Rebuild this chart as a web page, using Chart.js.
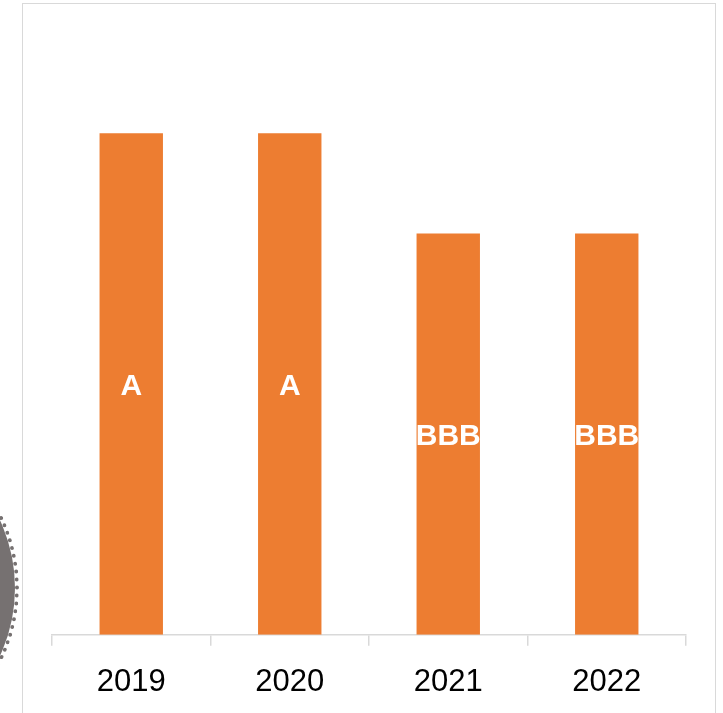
<!DOCTYPE html>
<html>
<head>
<meta charset="utf-8">
<script src="https://cdn.jsdelivr.net/npm/chart.js@4"></script>
<style>
html, body { margin: 0; padding: 0; background: #fff; overflow: hidden; }
body { width: 723px; height: 713px; position: relative; }
.frame {
    position: absolute; left: 22px; top: 3px; width: 692px; height: 730px;
    border: 1.5px solid #d9d9d9;
}
.blob {
    position: absolute; left: -311px; top: 423px; width: 322px; height: 322px;
    border-radius: 50%; background: #767171; background-clip: padding-box;
    border: 4px dotted #767171;
}
#chart { position: absolute; left: 0; top: 0; }
</style>
</head>
<body>
<div class="blob"></div>
<div class="frame"></div>
<canvas id="chart" width="723" height="740"></canvas>
<script>
// Rating chart data
const years = ['2019', '2020', '2021', '2022'];
const scores = [5, 5, 4, 4];
const ratings = ['A', 'A', 'BBB', 'BBB'];

// draw rating text in the middle of each bar
const barLabels = {
    id: 'barLabels',
    afterDatasetsDraw(chart) {
        const ctx = chart.ctx;
        const meta = chart.getDatasetMeta(0);
        ctx.save();
        ctx.fillStyle = '#ffffff';
        ctx.font = 'bold 30px "Liberation Sans", Arial, sans-serif';
        ctx.textAlign = 'center';
        ctx.textBaseline = 'middle';
        meta.data.forEach(function(bar, i) {
            ctx.fillText(ratings[i], bar.x, (bar.y + bar.base) / 2 + 3);
        });
        ctx.restore();
    }
};

new Chart(document.getElementById('chart'), {
    type: 'bar',
    data: {
        labels: years,
        datasets: [{
            data: scores,
            backgroundColor: '#ed7d31',
            categoryPercentage: 1,
            barPercentage: 0.4
        }]
    },
    options: {
        responsive: false,
        animation: false,
        layout: { padding: { left: 52, right: 37, top: 33, bottom: 21 } },
        plugins: { legend: { display: false }, tooltip: { enabled: false } },
        scales: {
            y: { display: false, min: 0, max: 6 },
            x: {
                border: { color: '#d9d9d9', width: 1.5 },
                grid: {
                    offset: true,
                    drawOnChartArea: false,
                    color: '#d9d9d9',
                    lineWidth: 1.5,
                    tickLength: 11
                },
                ticks: {
                    color: '#000000',
                    padding: 18,
                    font: { family: '"Liberation Sans", Arial, sans-serif', size: 31 }
                }
            }
        }
    },
    plugins: [barLabels]
});
</script>
</body>
</html>
